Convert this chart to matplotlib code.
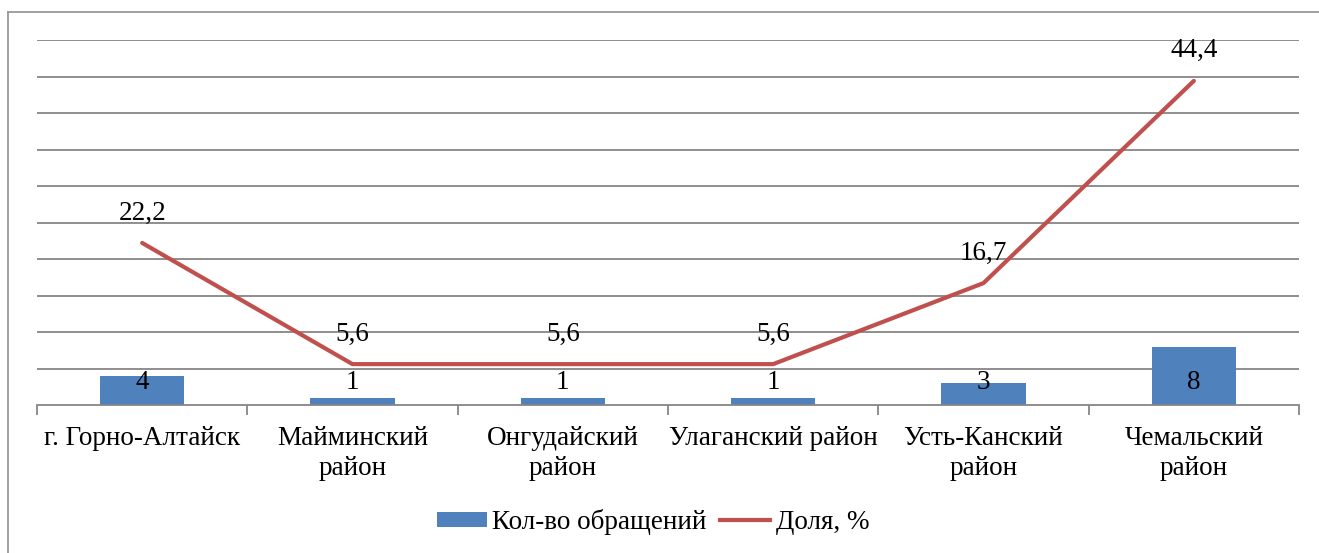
import matplotlib
matplotlib.use("Agg")
import matplotlib.pyplot as plt
from matplotlib.lines import Line2D
from matplotlib.patches import Patch

categories = ["г. Горно-Алтайск", "Майминский\nрайон", "Онгудайский\nрайон",
              "Улаганский район", "Усть-Канский\nрайон", "Чемальский\nрайон"]
counts = [4, 1, 1, 1, 3, 8]
shares = [22.2, 5.6, 5.6, 5.6, 16.7, 44.4]
count_labels = ["4", "1", "1", "1", "3", "8"]
share_labels = ["22,2", "5,6", "5,6", "5,6", "16,7", "44,4"]

plt.rcParams['font.family'] = ['Liberation Serif', 'DejaVu Serif']
FS = 19.5

W, H = 1319, 553
fig = plt.figure(figsize=(W/100, H/100), dpi=100)
ax = fig.add_axes([37/W, 1-405/H, (1299-37)/W, (405-40)/H])

x = list(range(len(categories)))
bar_color = "#4F81BD"
line_color = "#C0504D"
grid_color = "#868686"

ax.set_xlim(-0.5, len(categories)-0.5)
ax.set_ylim(0, 50)
ax.set_yticks(range(0, 51, 5))
for yv in range(5, 51, 5):
    ax.axhline(yv, color=grid_color, lw=1.3, zorder=0)

ax.bar(x, counts, width=0.4, color=bar_color, zorder=2)
ax.plot(x, shares, color=line_color, lw=3, zorder=3, solid_capstyle='round')

for xi, lab in zip(x, count_labels):
    ax.text(xi, 3.15, lab, ha='center', va='center', fontsize=FS, zorder=4)
for xi, v, lab in zip(x, shares, share_labels):
    ax.annotate(lab, (xi, v), xytext=(0, 30), textcoords='offset pixels',
                ha='center', va='center', fontsize=FS, zorder=4)

for s in ['top', 'right', 'left']:
    ax.spines[s].set_visible(False)
ax.spines['bottom'].set_color(grid_color)
ax.spines['bottom'].set_linewidth(1.3)
ax.tick_params(axis='y', left=False, labelleft=False)
ax.set_xticks([i + 0.5 for i in range(-1, len(categories))], minor=True)
ax.tick_params(axis='x', which='minor', length=7, color=grid_color, width=1.3)
ax.tick_params(axis='x', which='major', length=0, pad=15)
ax.set_xticks(x)
ax.set_xticklabels(categories, fontsize=FS, linespacing=1.28, va='top')

handles = [Patch(facecolor=bar_color, label="Кол-во обращений"),
           Line2D([0], [0], color=line_color, lw=3, label="Доля, %")]
fig.legend(handles=handles, loc='center', bbox_to_anchor=(653/W, 1-522/H),
           ncol=2, frameon=False, fontsize=FS, handlelength=1.85,
           handletextpad=0.2, columnspacing=0.5, handleheight=0.5)

fig.add_artist(Line2D([8/W, 8/W], [0, 1-12/H], color="#999999", lw=1.3, transform=fig.transFigure))
fig.add_artist(Line2D([8/W, 1], [1-12/H, 1-12/H], color="#999999", lw=1.3, transform=fig.transFigure))

fig.savefig("out.png", dpi=100)
